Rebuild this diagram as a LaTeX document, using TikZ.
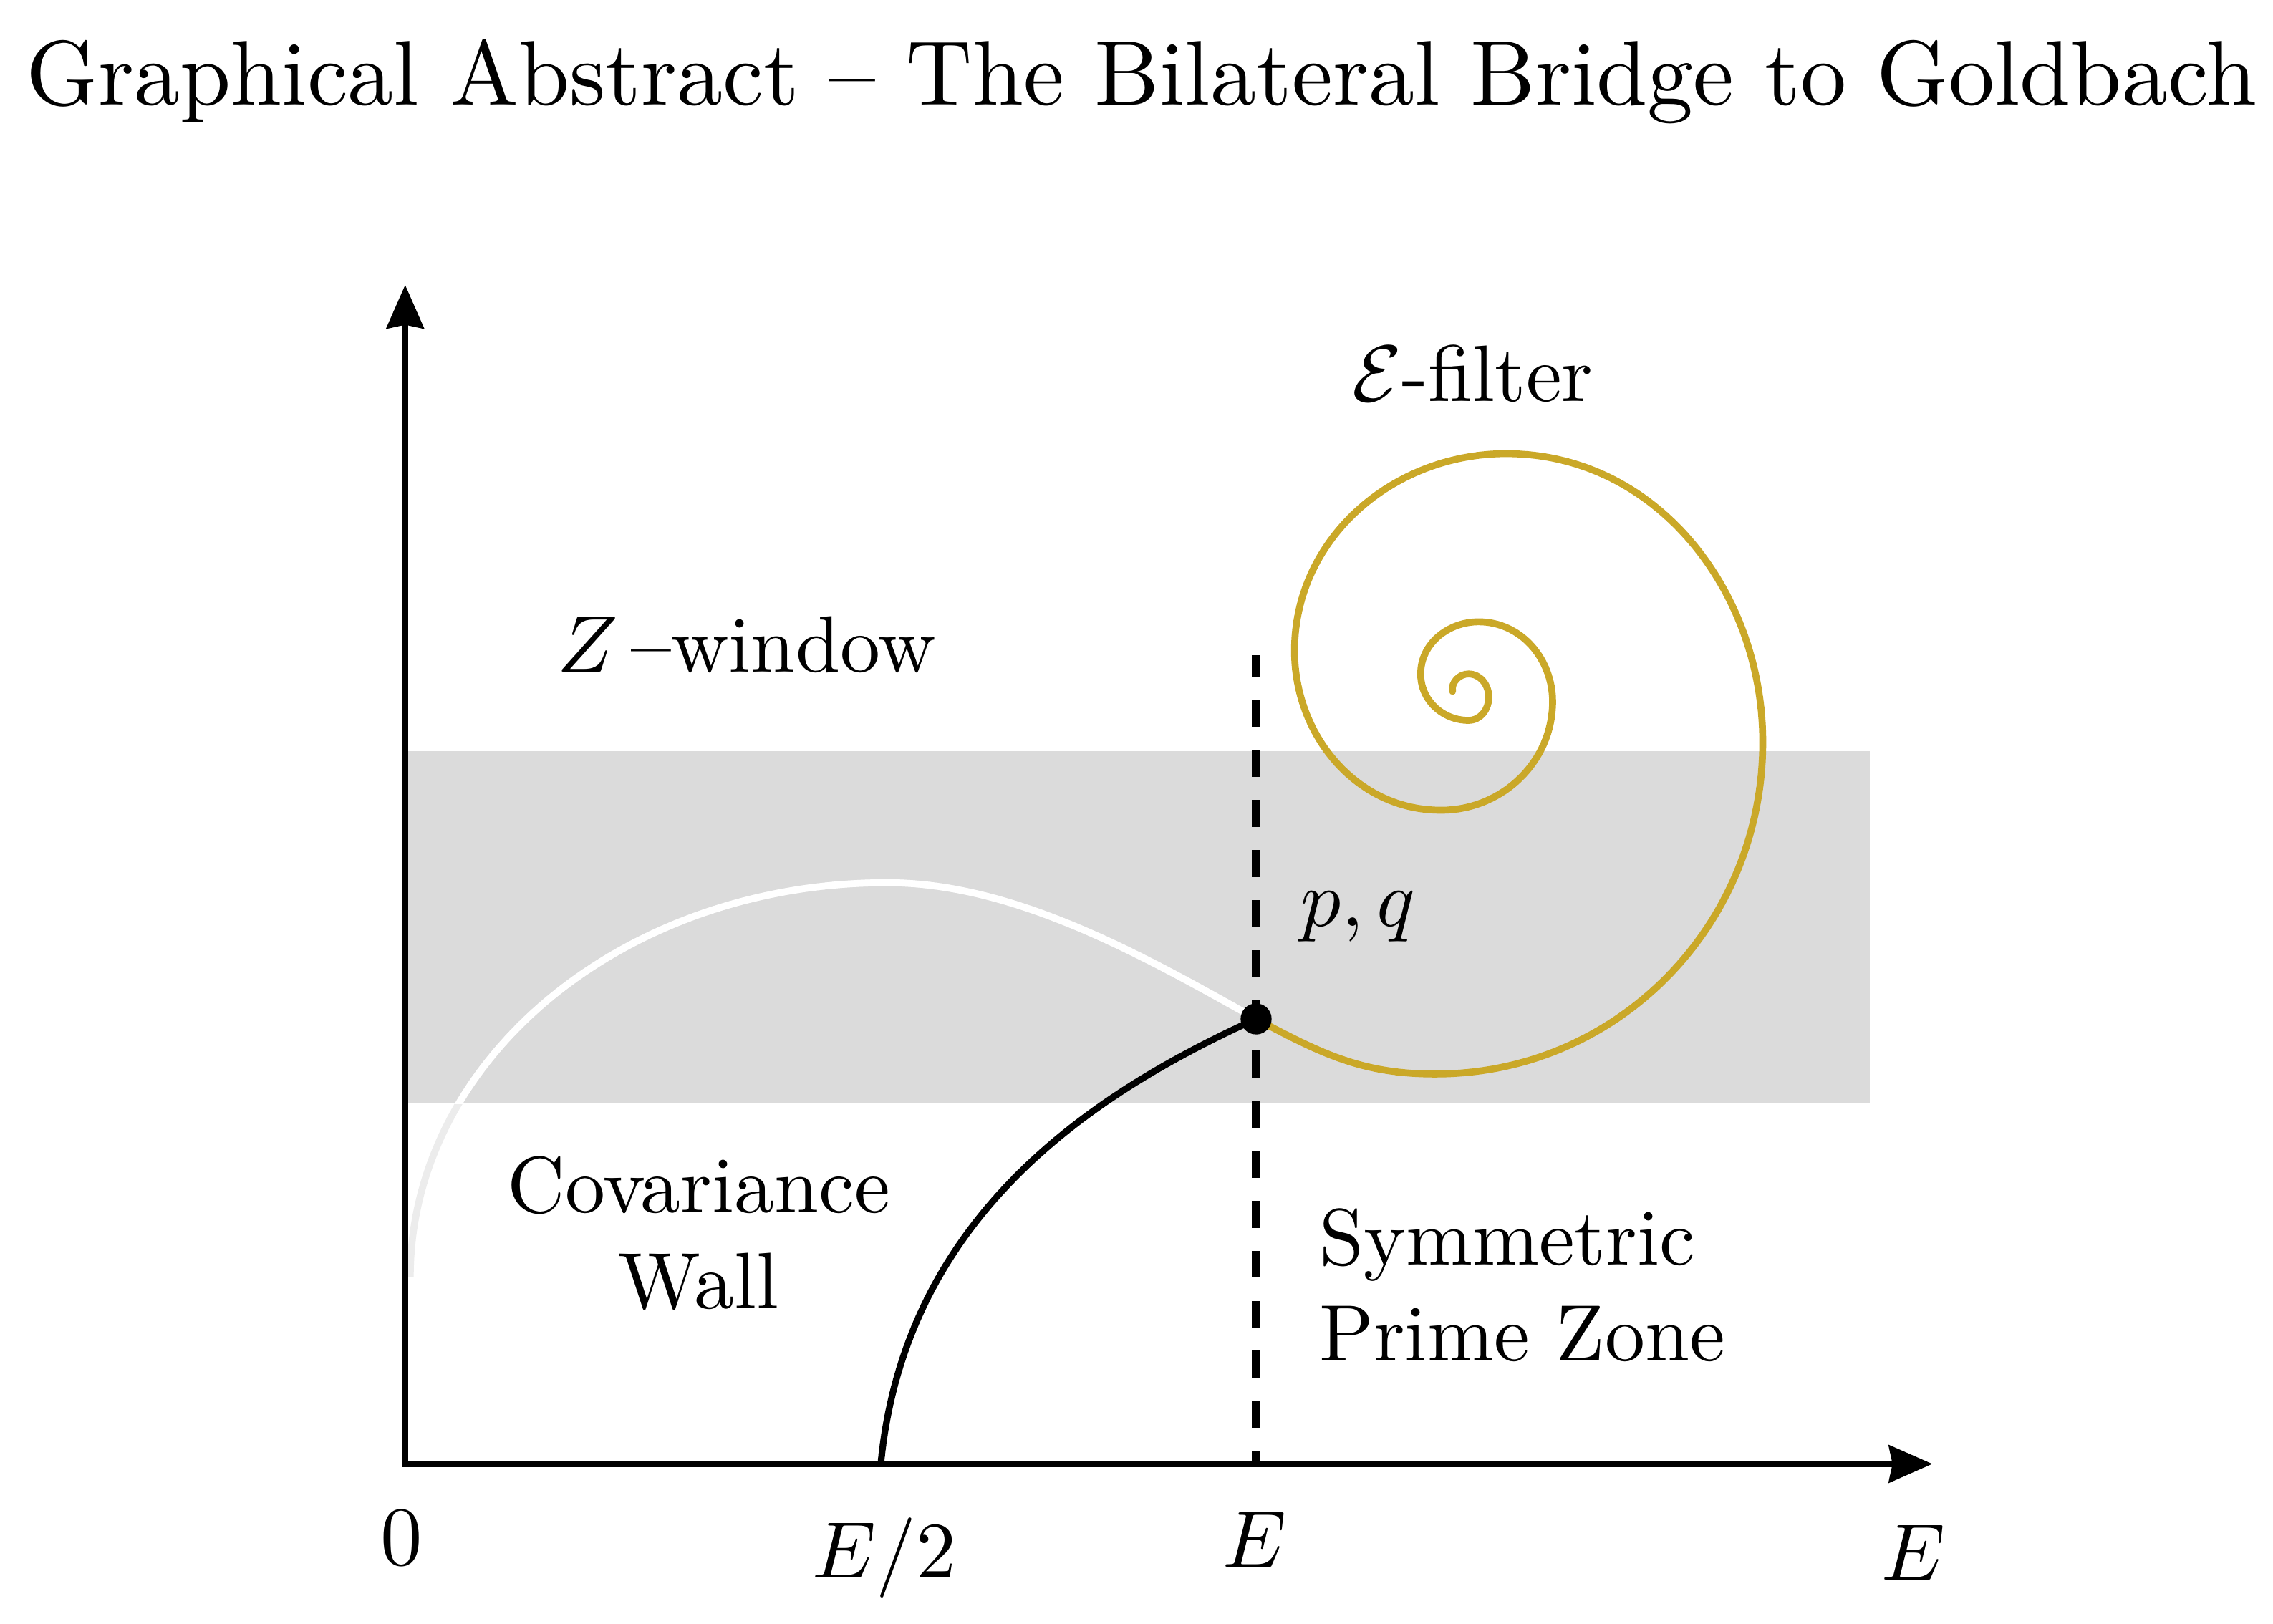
\documentclass[tikz,border=0pt]{standalone}
\usepackage{graphicx}
\usetikzlibrary{arrows.meta}
\definecolor{bandgray}{RGB}{219,219,219}
\definecolor{spiralgold}{RGB}{202,168,40}
\definecolor{fadewhite}{RGB}{236,236,236}
\begin{document}
\begin{tikzpicture}[x=0.014cm,y=0.014cm,
  axisline/.style={line width=1.7pt, line join=miter,
    {Stealth[length=0.42cm,width=0.36cm,inset=0.035cm]}-{Stealth[length=0.42cm,width=0.36cm,inset=0.035cm]}},
  bandfill/.style={fill=bandgray, draw=none},
  wallcurve/.style={line width=1.8pt, black},
  archcurve/.style={line width=1.9pt},
  spiralline/.style={line width=1.9pt, spiralgold, line cap=round},
  divider/.style={line width=2.4pt, dash pattern=on 7.46pt off 6.31pt, dash phase=1.5pt},
  dotstyle/.style={circle, fill=black, inner sep=0pt, minimum size=0.3cm},
  lbl/.style={inner sep=0pt, anchor=base},
]
\useasboundingbox (0,0) rectangle (1568,1120);
\fill[white] (0,0) rectangle (1568,1120);

% Z-window band
\fill[bandfill] (279.5,358.5) rectangle (1290,602);

% key points
\coordinate (origin) at (279.5,110);
\coordinate (xtip) at (1333,110);
\coordinate (ytip) at (279.5,923.4);
\coordinate (pqpt) at (866.5,417);
\coordinate (half) at (607.6,110);
\coordinate (dtop) at (866.5,668);
\coordinate (dbot) at (866.5,110);
\coordinate (archstart) at (283,239);
\coordinate (archtop) at (612,511);

% white arch (faint outside the band, white inside)
\draw[archcurve, fadewhite] (archstart) .. controls (283,389) and (430,511) .. (archtop)
  .. controls (700,511) and (790,460) .. (pqpt);
\begin{scope}
  \clip (279.5,358.5) rectangle (1290,602);
  \draw[archcurve, white] (archstart) .. controls (283,389) and (430,511) .. (archtop)
    .. controls (700,511) and (790,460) .. (pqpt);
\end{scope}

% axes
\draw[axisline] (ytip) -- (origin) -- (xtip);

% dashed divider at E
\draw[divider] (dtop) -- (dbot);

% covariance wall curve
\draw[wallcurve] (half) .. controls (624,280) and (752,365) .. (pqpt);

% epsilon-filter spiral
\draw[spiralline] (pqpt) to[out=-28,in=180] (990,379)
  to[out=0,in=-90] (1216,608)
  to[out=90,in=0] (1039,807)
  to[out=180,in=90] (893,671)
  to[out=-90,in=180] (994,561)
  to[out=0,in=-90] (1071,636)
  to[out=90,in=0] (1020,691)
  to[out=180,in=90] (980,655)
  to[out=-90,in=180] (1013,623)
  to[out=0,in=-90] (1027,639)
  to[out=90,in=0] (1013,655)
  to[out=180,in=100] (1002,643);

% meeting point
\node[dotstyle] (dot) at (pqpt) {};

% texts
\node[lbl] (title) at (787.5,1047.5) {\scalebox{2.52}{Graphical Abstract -- The Bilateral Bridge to Goldbach}};
\node[lbl] (zwin) at (515,656.4) {\scalebox{2.2}{$Z$\,--window}};
\node[lbl] (efilter) at (1016,843.3) {\scalebox{2.2}{$\mathcal{E}$-filter}};
\node[lbl] (pqlabel) at (937,481) {\scalebox{2.2}{$p,q$}};
\node[lbl] (covwall) at (482,283.5) {\scalebox{2.2}{\begin{tabular}[t]{@{}c@{}}Covariance\\Wall\end{tabular}}};
\node[lbl, anchor=base west] (symzone) at (909.5,247.2) {\scalebox{2.2}{\begin{tabular}[t]{@{}l@{}}Symmetric\\Prime Zone\end{tabular}}};
\node[lbl] (zero) at (277,40.4) {\scalebox{2.3}{0}};
\node[lbl] (halfE) at (610,31.5) {\scalebox{2.2}{$E/2$}};
\node[lbl] (midE) at (865.5,39) {\scalebox{2.2}{$E$}};
\node[lbl] (axisE) at (1320,30) {\scalebox{2.2}{$E$}};
\end{tikzpicture}
\end{document}
